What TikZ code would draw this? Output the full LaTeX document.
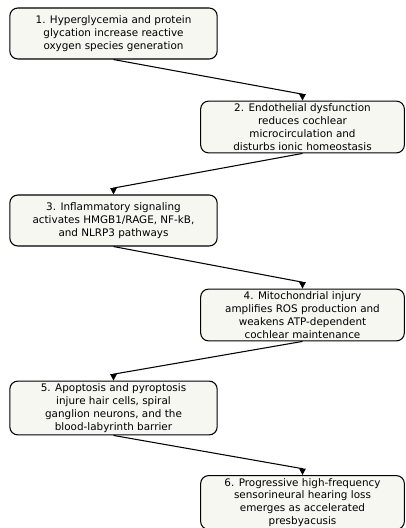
\documentclass[tikz,border=0pt]{standalone}
\usepackage{fontspec}
\setmainfont{DejaVu Sans}
\usetikzlibrary{calc,arrows.meta}

\begin{document}
\begin{tikzpicture}[x=0.75pt, y=-0.75pt,
    stage/.style={rectangle, rounded corners=6pt, draw=black, fill=boxfill,
    line width=0.8pt, align=center, minimum height=38.25pt, inner sep=2pt,
    font=\fontsize{7.8pt}{9.6pt}\selectfont},
    left/.style={stage, minimum width=155.5pt},
    right/.style={stage, minimum width=152.8pt},
    flow/.style={line width=0.8pt, -{Triangle[length=4.8pt,width=4.8pt]}}]
    \definecolor{boxfill}{HTML}{F5F7F0}
    \useasboundingbox (0,0) rectangle (405,528);
    \node[left] (A) at (113.5,33.5) {1. Hyperglycemia and protein\\glycation increase reactive\\oxygen species generation};
    \node[right] (B) at (302.5,127) {2. Endothelial dysfunction\\reduces cochlear\\microcirculation and\\disturbs ionic homeostasis};
    \node[left] (C) at (113.5,220.5) {3. Inflammatory signaling\\activates HMGB1/RAGE, NF-kB,\\and NLRP3 pathways};
    \node[right] (D) at (302.5,315) {4. Mitochondrial injury\\amplifies ROS production and\\weakens ATP-dependent\\cochlear maintenance};
    \node[left] (E) at (113.5,408) {5. Apoptosis and pyroptosis\\injure hair cells, spiral\\ganglion neurons, and the\\blood-labyrinth barrier};
    \node[right] (F) at (302.5,502.5) {6. Progressive high-frequency\\sensorineural hearing loss\\emerges as accelerated\\presbyacusis};
    \draw[flow] (A.south) -- ($(B.north)+(0,-6.4)$) -- (B.north);
    \draw[flow] (B.south) -- ($(C.north)+(0,-6.4)$) -- (C.north);
    \draw[flow] (C.south) -- ($(D.north)+(0,-6.4)$) -- (D.north);
    \draw[flow] (D.south) -- ($(E.north)+(0,-6.4)$) -- (E.north);
    \draw[flow] (E.south) -- ($(F.north)+(0,-6.4)$) -- (F.north);
\end{tikzpicture}
\end{document}
